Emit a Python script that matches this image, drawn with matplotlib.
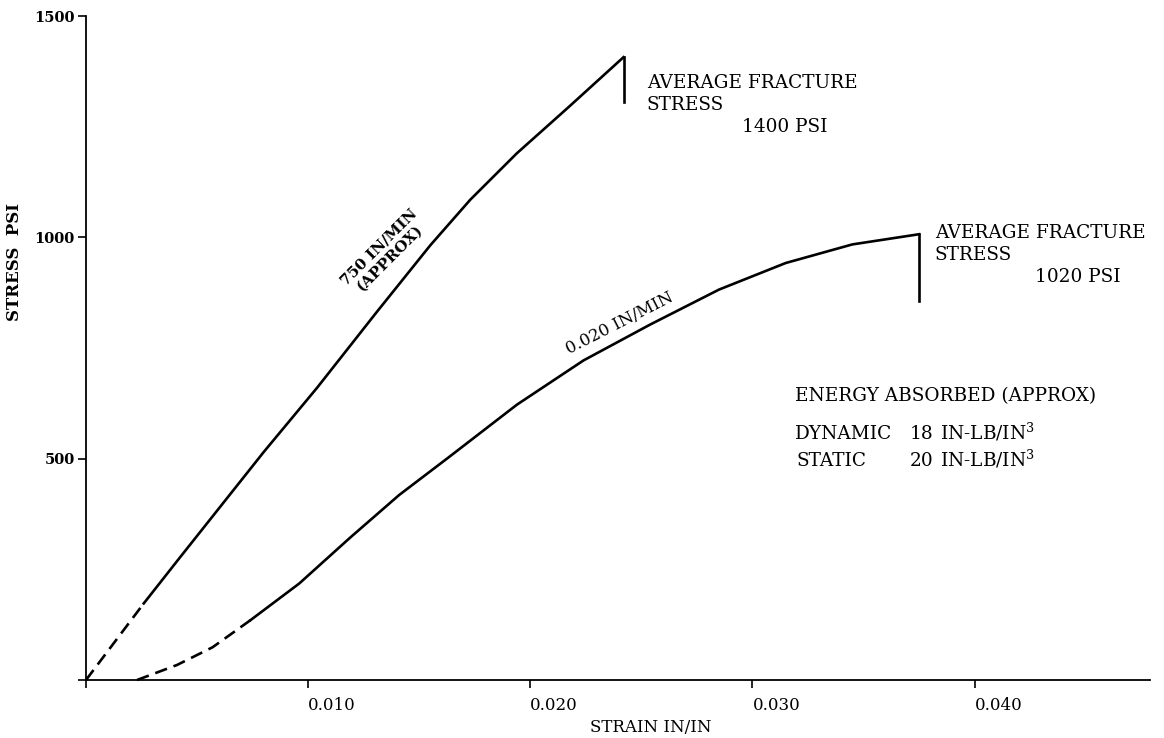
import matplotlib
matplotlib.use("Agg")
import matplotlib.pyplot as plt
import matplotlib.transforms as mtransforms

plt.rcParams['font.family'] = ['DejaVu Serif']
plt.rcParams['mathtext.fontset'] = 'dejavuserif'
plt.rcParams['lines.scale_dashes'] = False

# ---- data ----
dyn_strain = [0.0, 0.0026, 0.0042, 0.0080, 0.0104, 0.0131, 0.0155, 0.0173, 0.0194, 0.0217, 0.0242]
dyn_stress = [0, 173, 275, 515, 660, 832, 982, 1085, 1190, 1293, 1407]
dyn_dashed_n = 2          # first points drawn dashed
dyn_drop = [1407, 1306]   # vertical fracture drop

sta_strain = [0.0023, 0.0041, 0.0057, 0.0074, 0.0096, 0.0119, 0.0141, 0.0163, 0.0194,
              0.0224, 0.0254, 0.0285, 0.0315, 0.0345, 0.0375]
sta_stress = [0, 34, 74, 135, 218, 322, 418, 502, 622, 722, 803, 882, 942, 984, 1007]
sta_dashed_n = 4
sta_drop = [1007, 856]

x_ticks = [0.0, 0.010, 0.020, 0.030, 0.040]
x_ticklabels = ['', '0.010', '0.020', '0.030', '0.040']
y_ticks = [0, 500, 1000, 1500]
y_ticklabels = ['', '500', '1000', '1500']

W, H = 1164, 738
fig = plt.figure(figsize=(W / 100, H / 100), dpi=100)
x0, x1, yb, yt = 86, 1150, 680, 16
ax = fig.add_axes([x0 / W, (H - yb) / H, (x1 - x0) / W, (yb - yt) / H])
ax.set_xlim(0, 0.0479)
ax.set_ylim(0, 1500)

lw = 1.9
k = 'black'
# dynamic curve
ax.plot(dyn_strain[:dyn_dashed_n], dyn_stress[:dyn_dashed_n], color=k, lw=lw,
        linestyle='--', dashes=(9, 5), clip_on=False)
ax.plot(dyn_strain[dyn_dashed_n - 1:], dyn_stress[dyn_dashed_n - 1:], color=k, lw=lw)
ax.plot([dyn_strain[-1]] * 2, dyn_drop, color=k, lw=lw)
# static curve
ax.plot(sta_strain[:sta_dashed_n], sta_stress[:sta_dashed_n], color=k, lw=lw,
        linestyle='--', dashes=(9, 5), clip_on=False)
ax.plot(sta_strain[sta_dashed_n - 1:], sta_stress[sta_dashed_n - 1:], color=k, lw=lw)
ax.plot([sta_strain[-1]] * 2, sta_drop, color=k, lw=lw)

for s in ['top', 'right']:
    ax.spines[s].set_visible(False)
for s in ['left', 'bottom']:
    ax.spines[s].set_linewidth(1.3)

ax.set_xticks(x_ticks)
ax.set_xticklabels(x_ticklabels, fontsize=12, ha='left')
offset = mtransforms.ScaledTranslation(-5 / 100, 0, fig.dpi_scale_trans)
for lab in ax.get_xticklabels():
    lab.set_transform(lab.get_transform() + offset)
ax.set_yticks(y_ticks)
ax.set_yticklabels(y_ticklabels, fontsize=10.5, fontweight='bold')
ax.tick_params(axis='x', direction='out', length=6, width=1.2, pad=6)
ax.tick_params(axis='y', direction='out', length=6, width=1.2, pad=2)


def px(xp, yp):
    return xp / W, 1 - yp / H


def data(xp, yp):
    return (xp - x0) / (x1 - x0) * 0.0479, (yb - yp) / (yb - yt) * 1500


fs = 13.3
# axis titles
fig.text(*px(651, 732), 'STRAIN IN/IN', ha='center', va='baseline', fontsize=12)
fig.text(*px(15, 262), 'STRESS  PSI', ha='center', va='center', rotation=90,
         fontsize=12, fontweight='bold')

# curve labels
ax.text(*data(384, 253), '750 IN/MIN\n(APPROX)', rotation=45, rotation_mode='anchor',
        ha='center', va='center', fontsize=11, fontweight='bold', linespacing=1.1)
ax.text(*data(620, 323), '0.020 IN/MIN', rotation=27, rotation_mode='anchor',
        ha='center', va='center', fontsize=12)

# fracture annotations
fig.text(*px(647, 88), 'AVERAGE FRACTURE', fontsize=fs, va='baseline')
fig.text(*px(647, 110), 'STRESS', fontsize=fs, va='baseline')
fig.text(*px(742, 132), '1400 PSI', fontsize=fs, va='baseline')

fig.text(*px(935, 238), 'AVERAGE FRACTURE', fontsize=fs, va='baseline')
fig.text(*px(935, 260), 'STRESS', fontsize=fs, va='baseline')
fig.text(*px(1035, 282), '1020 PSI', fontsize=fs, va='baseline')

# energy block
fig.text(*px(795, 401), 'ENERGY ABSORBED (APPROX)', fontsize=fs, va='baseline')
fig.text(*px(795, 439), 'DYNAMIC', fontsize=fs, va='baseline')
fig.text(*px(910, 439), '18', fontsize=fs, va='baseline')
fig.text(*px(940, 439), r'IN-LB/IN$^3$', fontsize=fs, va='baseline')
fig.text(*px(797, 466), 'STATIC', fontsize=fs, va='baseline')
fig.text(*px(910, 466), '20', fontsize=fs, va='baseline')
fig.text(*px(940, 466), r'IN-LB/IN$^3$', fontsize=fs, va='baseline')

fig.savefig('out.png', dpi=100)
